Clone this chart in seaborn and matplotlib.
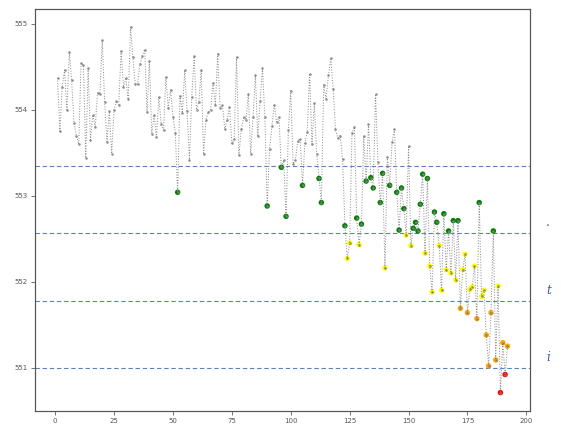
import numpy as np
import pandas as pd
import seaborn as sns
import matplotlib
matplotlib.use('Agg')
import matplotlib.pyplot as plt

# values, index 1..192
values = [
    554.37, 553.75, 554.27, 554.46, 554.00, 554.67, 554.34, 553.85, 553.70, 553.60,
    554.54, 554.52, 553.44, 554.48, 553.65, 553.94, 553.80, 554.20, 554.18, 554.81,
    554.09, 553.63, 553.98, 553.49, 554.00, 554.10, 554.06, 554.68, 554.26, 554.37,
    554.12, 554.96, 554.61, 554.30, 554.30, 554.53, 554.63, 554.70, 553.97, 554.57,
    553.72, 553.94, 553.68, 554.15, 553.83, 553.76, 554.38, 554.02, 554.23, 553.92,
    553.73, 553.04, 554.16, 553.96, 554.46, 553.98, 553.42, 554.15, 554.62, 554.00,
    554.09, 554.46, 553.48, 553.88, 553.97, 554.00, 554.31, 554.05, 554.65, 554.02,
    554.05, 553.77, 553.88, 554.03, 553.61, 553.66, 554.61, 553.47, 553.77, 553.91,
    553.88, 554.18, 553.49, 553.92, 554.40, 553.69, 554.10, 554.48, 553.92, 552.88,
    553.54, 553.81, 554.06, 553.86, 553.91, 553.33, 553.41, 552.76, 553.76, 554.22,
    553.37, 553.42, 553.64, 553.66, 553.12, 553.61, 553.74, 554.42, 553.60, 554.08,
    553.49, 553.20, 552.92, 554.29, 554.13, 554.40, 554.60, 554.24, 553.77, 553.67,
    553.70, 553.43, 552.65, 552.27, 552.45, 553.73, 553.80, 552.74, 552.43, 552.67,
    553.70, 553.17, 553.83, 553.21, 553.09, 554.18, 553.39, 552.92, 553.26, 552.16,
    553.45, 553.12, 553.62, 553.77, 553.04, 552.60, 553.09, 552.85, 552.54, 553.58,
    552.42, 552.62, 552.69, 552.59, 552.90, 553.25, 552.33, 553.20, 552.18, 551.88,
    552.81, 552.69, 552.42, 551.90, 552.79, 552.14, 552.59, 552.10, 552.71, 552.02,
    552.71, 551.69, 552.14, 552.32, 551.64, 551.91, 551.94, 552.18, 551.57, 552.92,
    551.83, 551.90, 551.38, 551.02, 551.64, 552.59, 551.09, 551.95, 550.71, 551.29,
    550.92, 551.25,
]
index = list(range(1, len(values) + 1))

# horizontal threshold lines
thresholds = [553.35, 552.57, 551.78, 551.00]
level_names = ['ok', 'level1', 'level2', 'level3', 'level4']
level_colors = {'level1': 'green', 'level2': 'yellow', 'level3': 'orange', 'level4': 'red'}
side_labels = ['', '.', 't', 'i']

df = pd.DataFrame({'idx': index, 'value': values})
df['level'] = [level_names[sum(v < t for t in thresholds)] for v in values]

sns.set_style('ticks')
fig, ax = plt.subplots(figsize=(561 / 72, 424 / 72), dpi=72)
fig.subplots_adjust(left=0.0624, right=0.9447, bottom=0.031, top=0.979)

flagged = df[df['level'] != 'ok']
sns.scatterplot(data=flagged, x='idx', y='value', hue='level', palette=level_colors,
                s=30, edgecolor='none', legend=False, zorder=2, ax=ax)
sns.lineplot(data=df, x='idx', y='value', color='gray', linestyle=':', linewidth=1,
             marker='o', markersize=2.5, markeredgewidth=0, alpha=0.9, zorder=3, ax=ax)

for t, lab in zip(thresholds, side_labels):
    ax.axhline(t, color='#5b7fbf', linestyle='--', linewidth=1.1, dashes=(4, 2.5), zorder=1)
    if lab:
        ax.text(1.033, t + 0.04, lab, transform=ax.get_yaxis_transform(), color='#3b5ba5',
                fontsize=12, fontstyle='italic', family='DejaVu Serif', va='bottom',
                clip_on=False)

ax.set_xticks([0, 25, 50, 75, 100, 125, 150, 175, 200])
ax.set_yticks([551, 552, 553, 554, 555])
ax.tick_params(labelsize=7, colors='#555555', length=4)
ax.set_xlabel('')
ax.set_ylabel('')
for sp in ax.spines.values():
    sp.set_color('#555555')
    sp.set_linewidth(1.2)

plt.savefig('out.png', dpi=72)
